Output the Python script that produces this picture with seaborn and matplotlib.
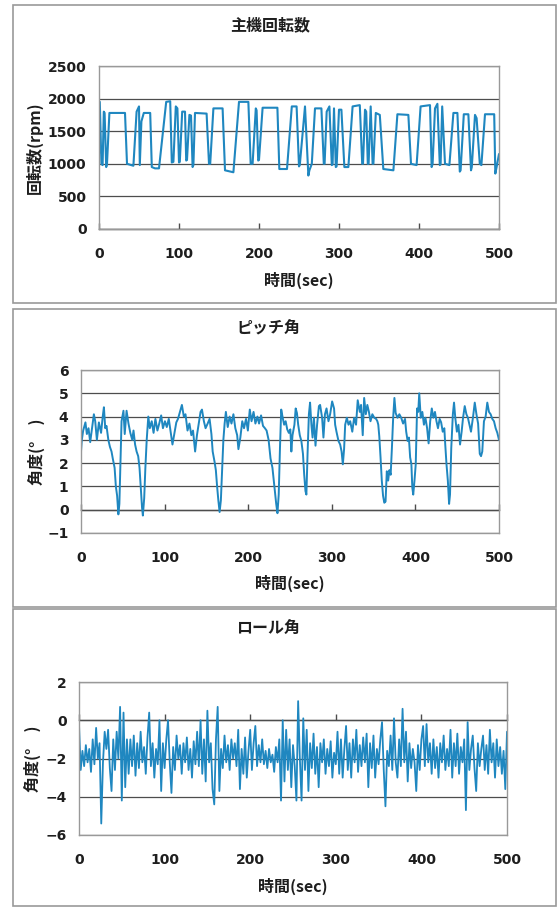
import numpy as np
import pandas as pd
import matplotlib
matplotlib.use("Agg")
import matplotlib.pyplot as plt
from matplotlib.patches import Rectangle
import seaborn as sns

# ---------------- data ----------------
rpm_t = [0, 1, 3, 4.5, 6, 7, 9, 10, 13, 32.5, 35, 43, 47, 50, 51, 53, 56, 64, 66, 70, 75,
         84, 89, 91, 93, 96, 98, 100, 101, 104, 107.5, 109, 110, 113, 115, 117, 118, 120,
         134.5, 137.5, 139, 143, 154.5, 157.5, 168, 175, 186.7, 189.6, 192, 196, 197, 199,
         200, 204.5, 223, 225.4, 235, 241, 247, 250, 251, 257.5, 261.7, 263, 266, 270, 278,
         281, 282, 284.6, 288, 291, 292, 293.75, 296, 297, 300, 303, 306.7, 311.7, 317, 326,
         329, 330, 332.5, 334, 336, 337, 339.6, 342, 343, 346, 351, 355.4, 368, 373, 386.7,
         390, 397, 402, 413.75, 415.8, 417, 420, 423, 426, 427, 429, 432.5, 438, 443, 448,
         451, 452, 456, 461.7, 465, 466, 470, 472, 476, 478, 482.5, 494, 495.4, 497, 500]
rpm_v = [1150, 1950, 1000, 980, 1800, 1780, 950, 1000, 1780, 1780, 1000, 970, 1800, 1880,
         980, 1650, 1780, 1780, 950, 930, 930, 1950, 1960, 1020, 1030, 1880, 1850, 1020, 1030,
         1800, 1800, 1050, 1060, 1750, 1740, 950, 980, 1780, 1770, 1000, 1000, 1850, 1850, 900,
         870, 1950, 1950, 1000, 1000, 1850, 1820, 1050, 1060, 1860, 1860, 920, 920, 1880, 1880,
         960, 980, 1880, 820, 900, 1000, 1850, 1850, 1000, 1000, 1800, 1880, 980, 990, 1850,
         950, 960, 1830, 1830, 950, 950, 1880, 1900, 1000, 1000, 1830, 1800, 1000, 1000, 1880,
         1000, 1000, 1780, 1750, 920, 900, 1760, 1750, 1000, 980, 1880, 1900, 950, 1000, 1850,
         1920, 980, 990, 1880, 1000, 980, 1780, 1780, 880, 900, 1760, 1760, 900, 950, 1750,
         1700, 1000, 980, 1760, 1760, 850, 950, 1150]

pitch_t = [0, 1, 2.6, 5.3, 7, 9, 11, 12.8, 15.4, 17, 19, 21.4, 24, 26, 27.4, 29, 30.5, 32.7,
           34.6, 36.5, 38, 40.2, 41.7, 43.2, 44.7, 45.9, 47, 48.5, 50.8, 52.3, 54.5, 56.8, 59,
           61.3, 62.8, 64.7, 66.5, 68.4, 70, 71.4, 73, 74, 75.6, 77, 78.6, 80.5, 82.3, 84.6,
           86.8, 89, 91.4, 93.6, 95.9, 98, 100.4, 102.6, 105, 107, 109.4, 111.6, 114, 116,
           118.4, 120.7, 123, 125, 127.4, 129.7, 132, 134, 136.5, 138.7, 141, 143, 144.7, 147,
           149, 151.5, 153.8, 156, 157.5, 159.8, 161.3, 162.8, 164.3, 165.8, 167.3, 168.8,
           170.3, 171.8, 173.3, 175.5, 177.8, 180, 182.3, 184.6, 186.8, 188.3, 190.6, 192.9,
           195, 197.4, 199.6, 201.9, 204, 206.4, 208.6, 211, 213, 215.4, 217.7, 220, 222,
           224.4, 226.7, 229, 231.5, 233.5, 235, 236.5, 238, 239.5, 241, 243, 244.8, 246.7,
           248.6, 250.4, 251.6, 253, 255.3, 256.8, 258.3, 259.8, 261.7, 263.6, 265.5, 267,
           268.5, 269.6, 271, 272.6, 274, 275.6, 277, 278.6, 280.5, 282.4, 284.6, 286, 288.4,
           290, 291.8, 293.7, 296, 298, 300.4, 302.7, 304, 305.6, 308, 310, 311.7, 313.2,
           314.7, 316, 318, 320, 322, 324.5, 326.7, 329, 331, 333.5, 335, 337, 338.7, 340.7,
           342.5, 344.4, 346.3, 348.5, 350.8, 353, 354.5, 355.6, 356.8, 358.3, 359.8, 361.3,
           362.8, 364.3, 365.8, 367.4, 368.9, 370.4, 371.9, 373.4, 374.9, 376.4, 378.6, 380.8,
           383, 385.3, 387.6, 389, 390.7, 392.2, 393.7, 395.2, 396.3, 397.4, 398.9, 400.4, 402,
           403.4, 404.6, 406.4, 408.3, 410.2, 412, 414, 415.8, 417.7, 419.6, 421.5, 423.4,
           425.2, 427, 429, 430.8, 432.7, 434.6, 435.7, 437.2, 438.8, 440.3, 441.4, 442.9,
           444.8, 446.2, 447.7, 449.6, 451.5, 453.4, 455.3, 457, 459, 461, 462.8, 466.5, 469,
           471, 473, 475, 477, 478.5, 480, 482, 484, 486, 488, 490, 492, 494, 496, 498, 500]
pitch_v = [2.5, 3.0, 3.4, 3.75, 3.25, 3.5, 2.9, 3.4, 4.1, 3.8, 3.0, 3.75, 3.3, 4.0, 4.4, 3.5,
           3.6, 3.0, 2.7, 2.5, 2.2, 1.8, 1.0, 0.6, -0.2, 0.25, 1.8, 3.8, 4.25, 3.25, 4.25, 3.7,
           3.3, 3.0, 3.4, 2.8, 2.5, 2.3, 1.8, 1.0, 0.1, -0.25, 0.5, 1.8, 3.0, 4.0, 3.5, 3.8,
           3.3, 3.9, 3.4, 3.7, 4.05, 3.5, 3.8, 3.55, 3.9, 3.4, 2.8, 3.25, 3.75, 3.9, 4.2, 4.5,
           4.0, 4.1, 3.4, 3.7, 3.2, 3.4, 2.5, 3.2, 3.75, 4.2, 4.3, 3.8, 3.5, 3.7, 3.9, 3.25,
           2.5, 2.05, 1.7, 1.0, 0.4, -0.1, 0.4, 1.7, 3.0, 3.7, 4.2, 3.55, 4.0, 3.7, 4.1, 3.5,
           3.2, 2.6, 3.1, 3.8, 3.5, 3.9, 3.4, 4.3, 3.8, 4.2, 3.7, 4.0, 3.7, 4.05, 3.6, 3.5,
           3.4, 3.0, 2.2, 1.8, 0.95, 0.25, -0.15, 0.65, 2.65, 4.3, 4.0, 3.65, 3.8, 3.45, 3.3,
           3.45, 2.5, 3.2, 3.65, 4.35, 4.15, 3.65, 3.2, 2.95, 2.4, 1.5, 0.8, 0.65, 2.4, 4.1,
           4.6, 3.65, 3.1, 3.95, 2.75, 3.65, 4.45, 4.5, 3.95, 3.1, 4.1, 4.35, 3.8, 4.1, 4.65,
           4.35, 3.65, 3.35, 2.95, 2.8, 2.5, 1.95, 2.6, 3.65, 3.95, 3.65, 3.8, 3.35, 3.95, 3.65,
           4.7, 4.2, 4.5, 3.2, 4.8, 4.1, 4.5, 4.2, 3.8, 4.1, 3.95, 3.9, 3.8, 3.65, 3.15, 2.25,
           1.25, 0.6, 0.3, 0.35, 1.65, 1.25, 1.7, 1.5, 2.65, 3.95, 4.8, 4.15, 3.95, 4.1, 3.95,
           3.7, 3.9, 3.35, 2.95, 3.1, 2.25, 1.95, 0.95, 0.65, 1.25, 1.95, 4.35, 4.2, 5.0, 3.95,
           4.2, 3.65, 3.95, 3.5, 2.85, 3.8, 4.35, 3.95, 4.2, 3.8, 3.5, 3.9, 3.75, 3.35, 3.5,
           2.8, 1.95, 1.25, 0.25, 0.65, 2.65, 4.1, 4.6, 3.95, 3.35, 3.65, 2.8, 3.35, 3.95,
           4.45, 4.1, 3.95, 3.35, 4.0, 4.6, 4.1, 3.7, 2.4, 2.3, 2.5, 3.8, 4.0, 4.6, 4.2, 4.1,
           3.9, 3.8, 3.5, 3.3, 3.0]

roll_t = np.arange(0, 501, 2)  # sampling grid, 2 s
roll_v = [-0.2, -2.6, -1.6, -2.4, -1.3, -2.2, -1.5, -2.7, -1.0, -2.3,
          -0.4, -2.0, -1.2, -5.4, -2.2, -0.6, -1.5, -0.5, -2.5, -3.7,
          -1.0, -2.6, -0.6, -2.0, 0.7, -4.2, 0.4, -3.5, -1.0, -2.8,
          -1.0, -2.4, -0.8, -2.9, -1.2, -2.5, -0.6, -2.2, -1.4, -2.8,
          -0.9, 0.4, -2.4, -1.2, -3.0, -1.5, -2.3, 0.0, -3.7, -1.2,
          -2.5, -1.0, 0.0, -2.2, -3.8, -1.4, -2.6, -0.8, -2.0, -1.3,
          -2.8, -1.2, -2.2, -0.9, -2.6, -1.5, -3.0, -1.1, -2.3, -0.6,
          -2.4, 0.0, -2.8, -1.0, -3.2, 0.5, -2.2, -1.2, -3.6, -4.4,
          -1.0, 0.7, -3.7, -1.5, -2.5, -0.8, -2.2, -1.3, -2.6, -1.0,
          -2.0, -1.2, -2.4, -0.5, -3.6, -1.5, -2.8, -0.9, -3.0, -1.6,
          -0.5, -2.6, -1.2, -0.3, -2.4, -1.3, -2.2, -1.0, -2.3, -1.6,
          -2.5, -1.5, -2.2, -1.8, -2.7, -1.4, -2.2, -1.0, -4.2, 0.0,
          -3.2, -0.5, -2.6, -1.0, -3.5, -1.3, -2.4, -4.2, 1.0, -2.0,
          -4.2, 0.1, -2.6, -0.5, -3.7, -1.2, -2.5, -0.7, -2.8, -1.4,
          -3.5, -1.2, -2.2, -1.0, -2.8, -1.5, -2.4, -1.1, -3.0, -1.7,
          -2.3, -0.6, -2.8, -1.0, -3.0, -1.5, -0.3, -2.6, -1.2, -3.0,
          -1.0, -2.2, -0.5, -2.7, -1.3, -2.4, -0.9, -2.2, -0.7, -3.5,
          -1.2, -2.5, -0.8, -3.0, -1.5, -2.3, -1.0, -0.1, -2.6, -4.5,
          -1.6, -2.4, -0.8, -2.6, 0.1, -2.2, -3.0, -1.0, -2.4, 0.6,
          -2.2, -0.6, -3.2, -1.2, -2.5, -1.5, -2.2, -3.7, -1.3, -2.6,
          -1.0, -0.3, -2.4, -0.2, -2.2, -1.2, -2.8, -1.0, -2.5, -1.4,
          -3.0, -1.2, -2.2, -0.8, -2.6, -1.5, -2.4, -0.5, -3.0, -1.2,
          -2.4, -0.7, -2.8, -1.4, -2.2, -1.0, -4.7, -0.1, -2.6, -1.5,
          -0.8, -2.5, -3.7, -1.2, -2.4, -1.5, -0.8, -2.6, -1.3, -2.8,
          -0.5, -2.2, -1.2, -3.0, -1.0, -2.4, -1.4, -2.8, -1.6, -3.6,
          -0.6]

titles = ["主機回転数", "ピッチ角", "ロール角"]
ylabels = ["回転数(rpm)", "角度(°\u3000)", "角度(°\u3000)"]
xlabel = "時間(sec)"
xticks = [0, 100, 200, 300, 400, 500]
yticks_list = [[0, 500, 1000, 1500, 2000, 2500], [-1, 0, 1, 2, 3, 4, 5, 6], [-6, -4, -2, 0, 2]]

# ---------------- style ----------------
sns.set_theme(style="white")
plt.rcParams["font.family"] = ["Noto Sans CJK JP", "DejaVu Sans"]
plt.rcParams["font.weight"] = "bold"
plt.rcParams["axes.labelweight"] = "bold"
plt.rcParams["axes.unicode_minus"] = True

W, H = 558, 907
fig = plt.figure(figsize=(W / 100, H / 100), dpi=100)
fig.patch.set_facecolor("white")

LINE = "#1f87c0"
GRID = "#4d4d4d"
BORDER = "#999999"
TXT = "#1e1e1e"

# panel geometry in pixels: (left, right, top, bottom)
geo = [(99, 499, 66, 229), (81, 499, 370, 533), (79, 507, 682, 835)]
frames = [(13, 556, 5, 303), (13, 556, 309, 607), (13, 556, 609, 906)]
title_pos = [(270, 25), (268, 329), (268, 629)]
xlab_y = [280, 583, 886]
ylab_x = [43, 45, 41]
lws = [1.5, 1.4, 1.3]

series = [pd.DataFrame({"t": rpm_t, "v": rpm_v}),
          pd.DataFrame({"t": pitch_t, "v": pitch_v}),
          pd.DataFrame({"t": roll_t, "v": roll_v})]

for i in range(3):
    l, r, t, b = geo[i]
    ax = fig.add_axes([l / W, 1 - b / H, (r - l) / W, (b - t) / H])
    ax.set_facecolor("white")
    sns.lineplot(data=series[i], x="t", y="v", ax=ax, color=LINE, linewidth=lws[i],
                 estimator=None, sort=False)
    yt = yticks_list[i]
    ax.set_xlim(0, 500)
    ax.set_ylim(yt[0], yt[-1])
    ax.set_xticks(xticks)
    ax.set_yticks(yt)
    ax.set_axisbelow(True)
    ax.grid(False)
    ax.yaxis.grid(True, color=GRID, linewidth=0.9)
    for s in ax.spines.values():
        s.set_color(BORDER)
        s.set_linewidth(1.0)
    ax.tick_params(axis="x", length=0, pad=13, colors=TXT)
    ax.tick_params(axis="y", length=0, pad=9, colors=TXT)
    for lab in ax.get_xticklabels() + ax.get_yticklabels():
        lab.set_fontfamily("DejaVu Sans")
        lab.set_fontweight("bold")
        lab.set_fontsize(10)
    ax.set_xlabel(xlabel, fontsize=11.5, color=TXT)
    ax.set_ylabel(ylabels[i], fontsize=11.5, color=TXT)
    ax.xaxis.set_label_coords(0.5, -(xlab_y[i] - 8 - b) / (b - t))
    ax.yaxis.set_label_coords((ylab_x[i] - l) / (r - l), 0.5)

    # category axis crossing at y = 0 with inward ticks
    frac = (0 - yt[0]) / (yt[-1] - yt[0])
    sec = ax.secondary_xaxis(frac)
    sec.set_xticks(xticks)
    sec.tick_params(axis="x", which="both", direction="in", length=4, width=1,
                    color=GRID, bottom=True, top=False, labelbottom=False, labeltop=False)
    for name, s in sec.spines.items():
        s.set_color(GRID)
        s.set_linewidth(1.0)

    fx0, fx1, fy0, fy1 = frames[i]
    fig.add_artist(Rectangle((fx0 / W, 1 - fy1 / H), (fx1 - fx0) / W, (fy1 - fy0) / H,
                             transform=fig.transFigure, fill=False, edgecolor=BORDER,
                             linewidth=1.2))
    tx, ty = title_pos[i]
    fig.text(tx / W, 1 - ty / H, titles[i], ha="center", va="center", fontsize=11.5,
             fontweight="bold", color=TXT)

fig.savefig("out.png", dpi=100, facecolor="white")
